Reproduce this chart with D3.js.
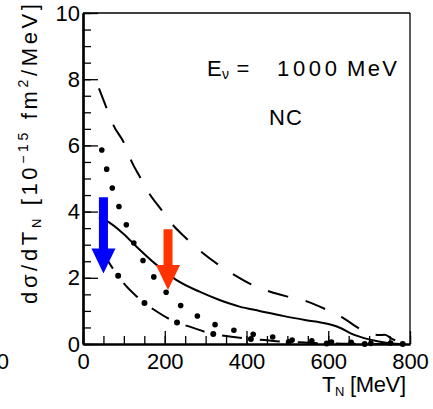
<!DOCTYPE html>
<html>
<head>
<meta charset="utf-8">
<script src="https://cdn.jsdelivr.net/npm/d3@7"></script>
<style>
  html, body { margin: 0; padding: 0; background: #fff; }
  svg { display: block; font-family: "Liberation Sans", Arial, Helvetica, sans-serif; }
</style>
</head>
<body>
<svg id="chart" width="433" height="409"></svg>
<script>
// ---- data ----
const xTickValues = [0, 200, 400, 600, 800];
const yTickValues = [0, 2, 4, 6, 8, 10];
const xMinorTicks = d3.range(0, 801, 50);
const yMinorTicks = d3.range(0, 10.01, 0.5);

// upper long-dashed curve
const dashedT = [39, 58, 74, 101, 119, 139, 162, 192, 216, 253, 293, 332, 371, 415, 458, 507, 549, 597, 637, 680, 724, 738, 757, 795];
const dashedY = [7.72, 7.12, 6.62, 6.06, 5.51, 5.05, 4.55, 4.05, 3.65, 3.19, 2.75, 2.39, 2.08, 1.78, 1.58, 1.41, 1.28, 1.03, 0.78, 0.44, 0.27, 0.28, 0.15, 0.0];

// solid curve
const solidT = [39, 62, 98, 131, 180, 229, 285, 334, 383, 432, 489, 546, 594, 627, 659, 700, 741, 775];
const solidY = [3.83, 3.69, 3.34, 2.94, 2.39, 1.93, 1.58, 1.33, 1.13, 1.0, 0.85, 0.72, 0.62, 0.5, 0.3, 0.14, 0.04, 0.0];

// dotted curve
const dottedT = [46, 58, 72, 88, 106, 124, 146, 173, 202, 237, 278, 320, 367, 414, 460, 509, 558, 610, 655, 705, 749, 797];
const dottedY = [5.86, 5.28, 4.7, 4.15, 3.6, 3.06, 2.54, 2.03, 1.58, 1.18, 0.86, 0.6, 0.42, 0.3, 0.22, 0.12, 0.1, 0.06, 0.05, 0.02, 0.03, 0.0];

// lower dash-dot curve
const dashDotT = [42, 62, 86, 100, 132, 152, 172, 212, 234, 257, 306, 350, 395, 444, 489, 533, 582, 640, 705, 800];
const dashDotY = [2.95, 2.49, 2.06, 1.83, 1.43, 1.22, 1.05, 0.75, 0.63, 0.54, 0.34, 0.24, 0.17, 0.12, 0.07, 0.05, 0.02, 0.01, 0.0, 0.0];
const dashDotDotIndex = 2; // a dot of the pattern sits on this reading

// arrows: position, top of shaft, tip
const arrowT = [50, 208];
const arrowTop = [4.43, 3.47];
const arrowTip = [2.13, 1.63];
const arrowColor = ["#0000ff", "#ff3300"];

// ---- layout ----
const svg = d3.select("#chart");
const x = d3.scaleLinear().domain([0, 800]).range([83, 410]);
const y = d3.scaleLinear().domain([0, 10]).range([344, 13]);
const fontSize = 22;

const line = d3.line()
  .x(d => x(d[0]))
  .y(d => y(d[1]))
  .curve(d3.curveMonotoneX);

const zip = (a, b) => a.map((v, i) => [v, b[i]]);

const curves = svg.append("g").attr("fill", "none").attr("stroke", "#000");

// upper dashed
curves.append("path")
  .attr("d", line(zip(dashedT, dashedY)))
  .attr("stroke-width", 2)
  .attr("stroke-dasharray", "21 18");

// solid
curves.append("path")
  .attr("d", line(zip(solidT, solidY)))
  .attr("stroke-width", 2);

// dotted: round dots every ~20px along the curve
curves.append("path")
  .attr("d", line(zip(dottedT, dottedY)))
  .attr("stroke-width", 5.6)
  .attr("stroke-linecap", "round")
  .attr("stroke-dasharray", "0 19.7");

// dash-dot: dash, gap, dot, gap
const ddPts = zip(dashDotT, dashDotY);
const probe = svg.append("path").attr("d", line(ddPts.slice(0, dashDotDotIndex + 1)));
const L0 = probe.node().getTotalLength();
probe.remove();
const ddDash = 20, ddGap = 9, ddPeriod = ddDash + 2 * ddGap;
curves.append("path")
  .attr("d", line(ddPts))
  .attr("stroke-width", 2)
  .attr("stroke-dasharray", `${ddDash} ${ddPeriod - ddDash}`)
  .attr("stroke-dashoffset", -(L0 + ddGap));
curves.append("path")
  .attr("d", line(ddPts))
  .attr("stroke-width", 6)
  .attr("stroke-linecap", "round")
  .attr("stroke-dasharray", `0 ${ddPeriod}`)
  .attr("stroke-dashoffset", -L0);

// arrows
const shaftHalf = 4.5, headHalf = 12, headLen = 25;
arrowT.forEach((t, i) => {
  const cx = x(t), top = y(arrowTop[i]), tip = y(arrowTip[i]);
  const base = tip - headLen;
  const pts = [
    [cx - shaftHalf, top], [cx + shaftHalf, top], [cx + shaftHalf, base],
    [cx + headHalf, base], [cx, tip], [cx - headHalf, base], [cx - shaftHalf, base]
  ];
  svg.append("polygon")
    .attr("points", pts.map(p => p.join(",")).join(" "))
    .attr("fill", arrowColor[i]);
});

// ---- axes ----
function styleAxis(g, width) {
  g.select(".domain").attr("stroke-width", width);
  g.selectAll(".tick line").attr("stroke-width", 1.3);
  g.selectAll("text").attr("font-size", fontSize).attr("font-family", null).attr("fill", "#000");
}

const xMinor = svg.append("g").attr("transform", `translate(0,${y(0)})`)
  .call(d3.axisBottom(x).tickValues(xMinorTicks).tickSize(-8).tickSizeOuter(0).tickFormat(""));
styleAxis(xMinor, 2.2);
const xMajor = svg.append("g").attr("transform", `translate(0,${y(0)})`)
  .call(d3.axisBottom(x).tickValues(xTickValues).tickSize(-13).tickSizeOuter(0).tickPadding(9).tickFormat(d3.format("d")));
styleAxis(xMajor, 2.2);

const yMinor = svg.append("g").attr("transform", `translate(${x(0)},0)`)
  .call(d3.axisLeft(y).tickValues(yMinorTicks).tickSize(-8).tickSizeOuter(0).tickFormat(""));
styleAxis(yMinor, 2.2);
const yMajor = svg.append("g").attr("transform", `translate(${x(0)},0)`)
  .call(d3.axisLeft(y).tickValues(yTickValues).tickSize(-15).tickSizeOuter(0).tickPadding(3).tickFormat(d3.format("d")));
styleAxis(yMajor, 2.2);

// frame top and right
svg.append("line").attr("x1", x(0)).attr("x2", x(800)).attr("y1", y(10)).attr("y2", y(10))
  .attr("stroke", "#000").attr("stroke-width", 1.3);
svg.append("line").attr("x1", x(800)).attr("x2", x(800)).attr("y1", y(10)).attr("y2", y(0))
  .attr("stroke", "#000").attr("stroke-width", 1.3);

// neighbouring panel's last x label, cut by the left edge
svg.append("text").attr("x", 9).attr("y", 369).attr("text-anchor", "end")
  .attr("font-size", fontSize).text("800");

// axis titles
const xt = svg.append("text").attr("x", 322).attr("y", 392).attr("font-size", fontSize)
  .attr("textLength", 84).attr("lengthAdjust", "spacing");
xt.append("tspan").text("T");
xt.append("tspan").attr("font-size", 13).attr("dy", 4).text("N");
xt.append("tspan").attr("dy", -4).text(" [MeV]");

const yt = svg.append("text")
  .attr("transform", "translate(37,154) rotate(-90)")
  .attr("text-anchor", "middle")
  .attr("font-size", fontSize)
  .attr("textLength", 300).attr("lengthAdjust", "spacing");
yt.append("tspan").text("dσ/dT");
yt.append("tspan").attr("font-size", 13).attr("dy", 4).text("N");
yt.append("tspan").attr("dy", -4).text(" [10");
yt.append("tspan").attr("font-size", 14).attr("dy", -9).text("−15");
yt.append("tspan").attr("dy", 9).text(" fm");
yt.append("tspan").attr("font-size", 14).attr("dy", -9).text("2");
yt.append("tspan").attr("dy", 9).text("/MeV]");

// annotations
const annY = 76;
svg.append("text").attr("x", 207).attr("y", annY).attr("font-size", fontSize).text("E");
svg.append("text").attr("x", 222).attr("y", annY + 3).attr("font-size", 14).text("ν");
svg.append("text").attr("x", 243).attr("y", annY).attr("text-anchor", "middle").attr("font-size", fontSize).text("=");
svg.append("text").attr("x", 277).attr("y", annY).attr("font-size", fontSize)
  .attr("textLength", 60).attr("lengthAdjust", "spacing").text("1000");
svg.append("text").attr("x", 347).attr("y", annY).attr("font-size", fontSize)
  .attr("textLength", 50).attr("lengthAdjust", "spacing").text("MeV");

svg.append("text").attr("x", 269).attr("y", 125)
  .attr("font-size", fontSize).attr("textLength", 33).attr("lengthAdjust", "spacing").text("NC");
</script>
</body>
</html>
